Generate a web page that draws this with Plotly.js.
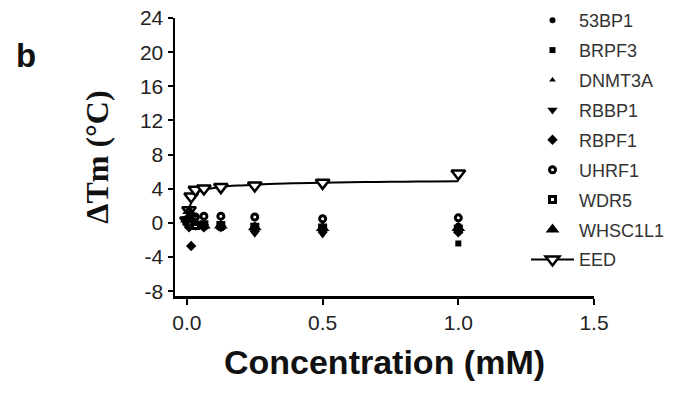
<!DOCTYPE html>
<html>
<head>
<meta charset="utf-8">
<script src="https://cdn.plot.ly/plotly-3.0.1.min.js"></script>
<style>html,body{margin:0;padding:0;background:#fff;}#chart{width:687px;height:394px;}</style>
</head>
<body>
<div id="chart"></div>
<script>
// Concentrations (mM)
const concentration = [0, 0.0078, 0.0156, 0.03125, 0.0625, 0.125, 0.25, 0.5, 1.0];

// ΔTm values (°C) per protein
const val53BP1   = [0.2, 0.1, 0.0, -0.1, -0.2, -0.1, -0.3, -0.4, -0.3];
const valBRPF3   = [0.0, -0.2, -0.3, -0.4, -0.5, -0.6, -0.8, -0.9, -2.4];
const valDNMT3A  = [0.1, 0.2, 0.1, 0.0, -0.1, -0.2, -0.3, -0.5, -0.6];
const valRBBP1   = [0.5, 0.3, 0.2, -0.2, -0.4, -0.6, -1.2, -1.3, -1.0];
const valRBPF1   = [0.3, -0.5, -2.7, -0.3, -0.5, -0.4, -0.7, -0.8, -1.1];
const valUHRF1   = [0.4, 0.5, 0.6, 0.7, 0.8, 0.8, 0.7, 0.5, 0.6];
const valWDR5    = [0.2, 0.0, -0.2, -0.3, -0.2, -0.3, -0.5, -0.6, -0.7];
const valWHSC1L1 = [0.4, 1.4, 1.0, 0.0, -0.3, -0.3, -0.5, -0.6, -0.6];
const valEED     = [0.3, 1.5, 3.1, 3.9, 4.05, 4.2, 4.4, 4.7, 5.8];

// Fitted EED curve
const fitX = [0, 0.005, 0.01, 0.02, 0.03, 0.05, 0.075, 0.1, 0.15, 0.2, 0.3, 0.4, 0.5, 0.6, 0.7, 0.8, 0.9, 1.0];
const fitY = [0, 1.0, 1.8, 2.8, 3.3, 3.75, 3.95, 4.1, 4.3, 4.4, 4.55, 4.65, 4.72, 4.77, 4.81, 4.84, 4.87, 4.9];

// Legend / tick text
const seriesNames = ["53BP1", "BRPF3", "DNMT3A", "RBBP1", "RBPF1", "UHRF1", "WDR5", "WHSC1L1", "EED"];
const yTickVals = [-8, -4, 0, 4, 8, 12, 16, 20, 24];
const yTickText = ["-8", "-4", "0", "4", "8", "12", "16", "20", "24"];
const xTickVals = [0, 0.5, 1.0, 1.5];
const xTickText = ["0.0", "0.5", "1.0", "1.5"];

const seriesValues = [val53BP1, valBRPF3, valDNMT3A, valRBBP1, valRBPF1, valUHRF1, valWDR5, valWHSC1L1];
const markerStyles = [
  {symbol: "circle", size: 6, color: "black"},
  {symbol: "square", size: 6, color: "black"},
  {symbol: "triangle-up", size: 6, color: "black"},
  {symbol: "triangle-down", size: 9, color: "black"},
  {symbol: "diamond", size: 8, color: "black"},
  {symbol: "circle", size: 6, color: "white", line: {color: "black", width: 3}},
  {symbol: "square", size: 6, color: "white", line: {color: "black", width: 3}},
  {symbol: "triangle-up", size: 12, color: "black"},
];
const eedMarker = {symbol: "triangle-down", size: 12, color: "white", line: {color: "black", width: 2.5}};

const traces = [];
// EED fit line
traces.push({
  x: fitX, y: fitY, type: "scatter", mode: "lines",
  line: {color: "black", width: 2, shape: "spline"},
  showlegend: false, hoverinfo: "skip"
});
// EED points (drawn beneath the other series)
traces.push({
  x: concentration, y: valEED, type: "scatter", mode: "markers",
  name: seriesNames[8], showlegend: false, marker: eedMarker, cliponaxis: false
});
seriesValues.forEach((vals, i) => {
  traces.push({
    x: concentration, y: vals, type: "scatter", mode: "markers",
    name: seriesNames[i], legendgroup: "g" + i,
    marker: Object.assign({line: {width: 0}}, markerStyles[i]),
    cliponaxis: false
  });
});
// EED legend entry (line + symbol)
traces.push({
  x: [null], y: [null], type: "scatter", mode: "lines+markers",
  name: seriesNames[8], legendgroup: "g8",
  line: {color: "black", width: 2}, marker: eedMarker
});

const layout = {
  width: 687, height: 394,
  margin: {l: 175, r: 93, t: 18, b: 98, autoexpand: false},
  paper_bgcolor: "white", plot_bgcolor: "white",
  font: {family: "Liberation Sans, Arial, sans-serif", color: "#222"},
  xaxis: {
    range: [-0.044, 1.5], tickvals: xTickVals, ticktext: xTickText,
    showgrid: false, zeroline: false, showline: true, linecolor: "black", linewidth: 2.5,
    ticks: "outside", ticklen: 6, tickwidth: 2, tickcolor: "black",
    tickfont: {size: 21, color: "#222"},
    title: {text: "<b>Concentration (mM)</b>", font: {size: 34, color: "#111", family: "Liberation Sans, Arial, sans-serif"}, standoff: 18}
  },
  yaxis: {
    range: [-8.55, 24], tickvals: yTickVals, ticktext: yTickText,
    showgrid: false, zeroline: false, showline: true, linecolor: "black", linewidth: 2.5,
    ticks: "outside", ticklen: 5, tickwidth: 2, tickcolor: "black",
    tickfont: {size: 21, color: "#222"},
    title: {text: "<b>ΔTm (°C)</b>", font: {size: 32, color: "#111", family: "Liberation Serif, Times New Roman, serif"}, standoff: 22}
  },
  legend: {
    xref: "container", yref: "container", x: 526/687, y: 1 - 2/394,
    xanchor: "left", yanchor: "top", maxheight: 394,
    bgcolor: "rgba(255,255,255,0)", borderwidth: 0,
    font: {size: 18, color: "#333"},
    itemwidth: 43, tracegroupgap: 3.5, traceorder: "grouped"
  },
  annotations: [{
    text: "<b>b</b>", xref: "paper", yref: "paper", x: -0.385, y: 0.865,
    xanchor: "left", yanchor: "middle", showarrow: false,
    font: {size: 33, color: "#111"}
  }],
  showlegend: true
};

Plotly.newPlot("chart", traces, layout, {displayModeBar: false, staticPlot: true});
</script>
</body>
</html>
